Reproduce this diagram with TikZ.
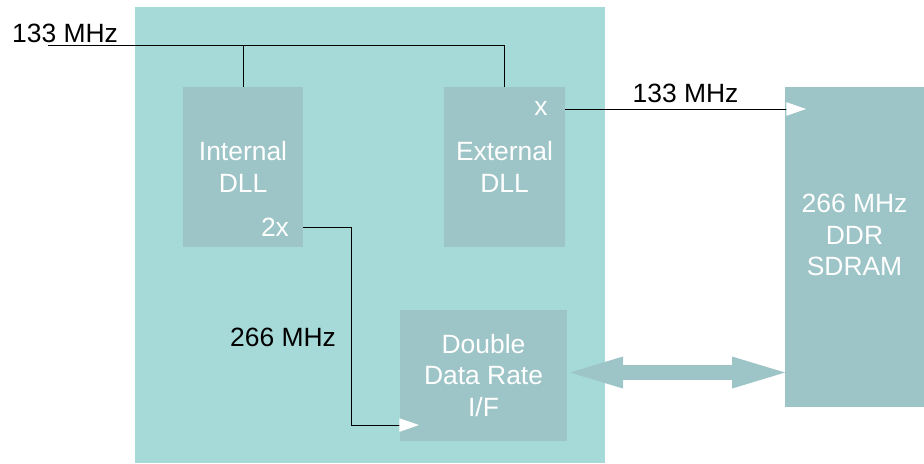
\documentclass[tikz,border=0pt]{standalone}
\usepackage{fontspec}
\setmainfont{Liberation Sans}
\usetikzlibrary{arrows.meta,calc}
\definecolor{chipcol}{RGB}{166,218,217}
\definecolor{blockcol}{RGB}{157,196,198}

\begin{document}
\begin{tikzpicture}[x=0.025cm, y=-0.025cm, font=\fontsize{18.8}{22.4}\selectfont,
  block/.style={rectangle, fill=blockcol, text=white, align=center, inner sep=0pt, outer sep=0pt, anchor=north west},
  lbl/.style={inner sep=0pt},
  wire/.style={line width=0.7pt},
  clk/.style={wire, -{Triangle[length=14pt, width=9.5pt, color=white]}},
  bus/.style={blockcol, line width=10pt, {Triangle[length=37.7pt, width=22.8pt, line width=0pt]}-{Triangle[length=37.7pt, width=22.8pt, line width=0pt]}}]
\useasboundingbox (0,0) rectangle (924,464);

\node (chip) [rectangle, fill=chipcol, minimum width=117.5mm, minimum height=114mm, inner sep=0pt, anchor=north west] at (135,7) {};

\node (intdll) [block, minimum width=30mm, minimum height=40mm] at (183,87) {Internal\\DLL};
\node (extdll) [block, minimum width=30.25mm, minimum height=40mm] at (444,87) {External\\DLL};
\node (ddr) [block, minimum width=41.75mm, minimum height=32.75mm] at (400,310) {Double\\Data Rate\\I/F};
\node (sdram) [block, minimum width=34.75mm, minimum height=80mm] at (785,87) {};
\node (sdramtxt) [lbl, text=white, align=center] at ($(sdram.center)+(0,-12)$) {266 MHz\\DDR\\SDRAM};

\node (xlbl) [lbl, text=white] at (541,109) {x};
\node (twox) [lbl, text=white] at (275,227) {2x};

% clock in
\coordinate (clkin) at (48,45);
\node (lblin) [lbl] at (65,33) {133 MHz};
\draw[wire] (clkin) -| (extdll.north);
\draw[wire] (intdll.north) -- (intdll.north |- clkin);

% clock out
\draw[clk] (extdll.east |- xlbl) -- ($(sdram.west |- xlbl)+(21,0)$) node[lbl, midway, above=4pt] {133 MHz};
\draw[clk] (intdll.east |- twox) -- ++(48,0) |- ($(ddr.south west)+(19,-16)$);
\node (lblddr) [lbl] at (283,337) {266 MHz};

% data
\draw[bus] ($(ddr.east)+(3,-3)$) -- ($(sdram.west |- ddr.east)+(0,-3)$);
\end{tikzpicture}
\end{document}
